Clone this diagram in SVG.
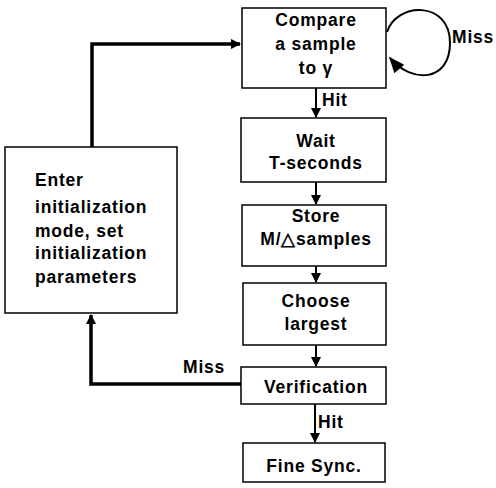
<svg xmlns="http://www.w3.org/2000/svg" width="496" height="488" viewBox="0 0 496 488">
<style>
.box{fill:#fff;stroke:#000;stroke-width:1.5}
.t{font-family:"Liberation Sans",Arial,sans-serif;font-weight:bold;font-size:17.5px;letter-spacing:0.8px;fill:#000}
.c{text-anchor:middle}
.ln{fill:none;stroke:#000;stroke-width:2}
.thick{fill:none;stroke:#000;stroke-width:3.5}
</style>
<defs>
<marker id="ah" viewBox="0 0 10 10" refX="9" refY="5" markerWidth="5" markerHeight="5" orient="auto" markerUnits="strokeWidth">
<path d="M0,0 L10,5 L0,10 z" fill="#000"/>
</marker>
<marker id="ahs" viewBox="0 0 10 10" refX="9" refY="5" markerWidth="3" markerHeight="3" orient="auto" markerUnits="strokeWidth">
<path d="M0,0 L10,5 L0,10 z" fill="#000"/>
</marker>
<marker id="ahl" viewBox="0 0 10 10" refX="9" refY="5" markerWidth="10" markerHeight="8" orient="auto" markerUnits="strokeWidth">
<path d="M0,1 L10,5 L0,9 z" fill="#000"/>
</marker>
</defs>
<g id="connectors">
<line class="ln" x1="316" y1="88" x2="316" y2="117" marker-end="url(#ah)"/>
<line class="ln" x1="316" y1="182" x2="316" y2="204" marker-end="url(#ah)"/>
<line class="ln" x1="316" y1="266" x2="316" y2="282" marker-end="url(#ah)"/>
<line class="ln" x1="316" y1="345" x2="316" y2="366" marker-end="url(#ah)"/>
<line class="ln" x1="315" y1="404" x2="315" y2="442" marker-end="url(#ah)"/>
<polyline class="thick" points="241,384 91,384 91,315" marker-end="url(#ahs)"/>
<polyline class="thick" points="92,147 92,44 240,44" marker-end="url(#ahs)"/>
<path class="ln" stroke-width="1.5" d="M387,32 C396,2 450,0 450,43 C450,82 412,84 390,58" marker-end="url(#ahl)"/>
<text class="t" x="452" y="43">Miss</text>
<text class="t" x="322" y="106">Hit</text>
<text class="t" x="183" y="373">Miss</text>
<text class="t" x="318" y="428">Hit</text>
</g>
<g id="compare">
<rect class="box" x="242" y="8" width="144" height="80"/>
<text class="t c" x="316" y="26">Compare</text>
<text class="t c" x="316" y="50">a sample</text>
<text class="t c" x="316" y="74">to γ</text>
</g>
<g id="wait">
<rect class="box" x="241" y="118" width="145" height="64"/>
<text class="t c" x="316" y="147">Wait</text>
<text class="t c" x="316" y="169">T-seconds</text>
</g>
<g id="store">
<rect class="box" x="242" y="205" width="144" height="61"/>
<text class="t c" x="316" y="222">Store</text>
<text class="t c" x="316" y="245">M/△samples</text>
</g>
<g id="choose">
<rect class="box" x="243" y="283" width="143" height="62"/>
<text class="t c" x="316" y="307">Choose</text>
<text class="t c" x="316" y="330">largest</text>
</g>
<g id="verification">
<rect class="box" x="241" y="367" width="145" height="37"/>
<text class="t c" x="316" y="393">Verification</text>
</g>
<g id="finesync">
<rect class="box" x="243" y="443" width="142" height="39"/>
<text class="t c" x="314" y="472">Fine Sync.</text>
</g>
<g id="init">
<rect class="box" x="5" y="147" width="172" height="166"/>
<text class="t" x="35" y="186">Enter</text>
<text class="t" x="35" y="213">initialization</text>
<text class="t" x="35" y="237">mode, set</text>
<text class="t" x="35" y="259">initialization</text>
<text class="t" x="35" y="283">parameters</text>
</g>
</svg>
